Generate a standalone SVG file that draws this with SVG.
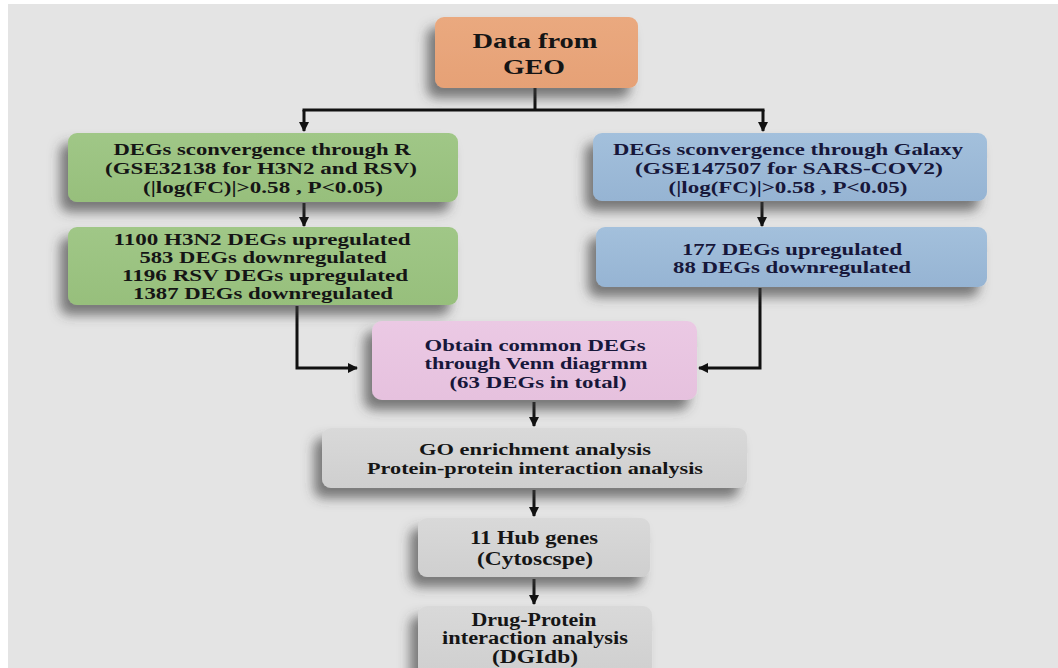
<svg xmlns="http://www.w3.org/2000/svg" width="1058" height="668" viewBox="0 0 1058 668">
  <style>
    .box { stroke: none; }
    .t { font-family: "Liberation Serif", "Times New Roman", serif; font-weight: bold; text-anchor: middle; fill: #151515; }
    .s17 { font-size: 17.5px; }
    .s16 { font-size: 16.5px; }
    .s18 { font-size: 18px; }
    .s21 { font-size: 21px; }
    .navy { fill: #17173a; }
    .ln { fill: none; stroke: #111; stroke-width: 3; }
  </style>
  <defs>
    <filter id="sh" x="-20%" y="-30%" width="140%" height="170%">
      <feDropShadow dx="-8" dy="10" stdDeviation="6" flood-color="#404040" flood-opacity="0.65"/>
    </filter>
    <marker id="ah" viewBox="0 0 10 10" refX="9" refY="5" markerWidth="10" markerHeight="10" markerUnits="userSpaceOnUse" orient="auto">
      <path d="M0,0 L10,5 L0,10 z" fill="#111"/>
    </marker>
    <linearGradient id="gOr" x1="0" y1="0" x2="0" y2="1">
      <stop offset="0" stop-color="#eaa97f"/><stop offset="1" stop-color="#e6a176"/>
    </linearGradient>
    <linearGradient id="gGr" x1="0" y1="0" x2="0" y2="1">
      <stop offset="0" stop-color="#a0c787"/><stop offset="1" stop-color="#97bf7c"/>
    </linearGradient>
    <linearGradient id="gBl" x1="0" y1="0" x2="0" y2="1">
      <stop offset="0" stop-color="#a3c0dc"/><stop offset="1" stop-color="#96b4d3"/>
    </linearGradient>
    <linearGradient id="gPk" x1="0" y1="0" x2="0" y2="1">
      <stop offset="0" stop-color="#ebc9e4"/><stop offset="1" stop-color="#e6c1de"/>
    </linearGradient>
    <linearGradient id="gGy" x1="0" y1="0" x2="0" y2="1">
      <stop offset="0" stop-color="#d9d9d9"/><stop offset="1" stop-color="#cfcfcf"/>
    </linearGradient>
  </defs>

  <rect x="0" y="0" width="1058" height="668" fill="#ffffff"/>
  <rect x="8" y="4" width="1050" height="664" fill="#e4e4e4"/>

  <g id="connectors">
    <line class="ln" x1="535" y1="88" x2="535" y2="110"/>
    <line class="ln" x1="302.5" y1="110" x2="764.5" y2="110"/>
    <line class="ln" x1="304" y1="110" x2="304" y2="131" marker-end="url(#ah)"/>
    <line class="ln" x1="763" y1="110" x2="763" y2="131" marker-end="url(#ah)"/>
    <line class="ln" x1="304" y1="203" x2="304" y2="226" marker-end="url(#ah)"/>
    <line class="ln" x1="762" y1="202" x2="762" y2="226" marker-end="url(#ah)"/>
    <polyline class="ln" points="297,306 297,368 357,368" marker-end="url(#ah)"/>
    <polyline class="ln" points="760,288 760,368 699,368" marker-end="url(#ah)"/>
    <line class="ln" x1="534" y1="402" x2="534" y2="426" marker-end="url(#ah)"/>
    <line class="ln" x1="534" y1="490" x2="534" y2="516" marker-end="url(#ah)"/>
    <line class="ln" x1="534" y1="579" x2="534" y2="604" marker-end="url(#ah)"/>
  </g>

  <g id="geo">
    <rect class="box" x="435" y="17" width="203" height="71" rx="9" fill="url(#gOr)" filter="url(#sh)"/>
    <text class="t s21" x="535" y="48" textLength="125" lengthAdjust="spacingAndGlyphs">Data from</text>
    <text class="t s21" x="534" y="74" textLength="62" lengthAdjust="spacingAndGlyphs">GEO</text>
  </g>

  <g id="degs-r">
    <rect class="box" x="68" y="133" width="390" height="69" rx="9" fill="url(#gGr)" filter="url(#sh)"/>
    <text class="t s17" x="262" y="155" textLength="297" lengthAdjust="spacingAndGlyphs">DEGs sconvergence through R</text>
    <text class="t s17" x="261" y="174" textLength="312" lengthAdjust="spacingAndGlyphs">(GSE32138 for H3N2 and RSV)</text>
    <text class="t s17" x="263" y="193" textLength="240" lengthAdjust="spacingAndGlyphs">(|log(FC)|&gt;0.58 , P&lt;0.05)</text>
  </g>

  <g id="degs-r-counts">
    <rect class="box" x="68" y="227" width="390" height="78" rx="9" fill="url(#gGr)" filter="url(#sh)"/>
    <text class="t s16" x="262" y="245" textLength="297" lengthAdjust="spacingAndGlyphs">1100 H3N2 DEGs upregulated</text>
    <text class="t s16" x="263" y="263" textLength="247" lengthAdjust="spacingAndGlyphs">583 DEGs downregulated</text>
    <text class="t s16" x="265" y="281" textLength="286" lengthAdjust="spacingAndGlyphs">1196 RSV DEGs upregulated</text>
    <text class="t s16" x="263" y="299" textLength="260" lengthAdjust="spacingAndGlyphs">1387 DEGs downregulated</text>
  </g>

  <g id="degs-galaxy">
    <rect class="box" x="593" y="133" width="394" height="68" rx="9" fill="url(#gBl)" filter="url(#sh)"/>
    <text class="t s17 navy" x="788" y="155" textLength="350" lengthAdjust="spacingAndGlyphs">DEGs sconvergence through Galaxy</text>
    <text class="t s17 navy" x="789" y="174" textLength="308" lengthAdjust="spacingAndGlyphs">(GSE147507 for SARS-COV2)</text>
    <text class="t s17 navy" x="788" y="193" textLength="239" lengthAdjust="spacingAndGlyphs">(|log(FC)|&gt;0.58 , P&lt;0.05)</text>
  </g>

  <g id="degs-galaxy-counts">
    <rect class="box" x="596" y="227" width="391" height="60" rx="9" fill="url(#gBl)" filter="url(#sh)"/>
    <text class="t s17 navy" x="792" y="255" textLength="220" lengthAdjust="spacingAndGlyphs">177 DEGs upregulated</text>
    <text class="t s17 navy" x="792" y="273" textLength="238" lengthAdjust="spacingAndGlyphs">88 DEGs downregulated</text>
  </g>

  <g id="venn">
    <rect class="box" x="372" y="321" width="325" height="79" rx="10" fill="url(#gPk)" filter="url(#sh)"/>
    <text class="t s17 navy" x="535" y="351" textLength="221" lengthAdjust="spacingAndGlyphs">Obtain common DEGs</text>
    <text class="t s17 navy" x="536" y="369" textLength="223" lengthAdjust="spacingAndGlyphs">through Venn diagrmm</text>
    <text class="t s17 navy" x="538" y="388" textLength="177" lengthAdjust="spacingAndGlyphs">(63 DEGs in total)</text>
  </g>

  <g id="go">
    <rect class="box" x="322" y="428" width="425" height="60" rx="9" fill="url(#gGy)" filter="url(#sh)"/>
    <text class="t s17" x="535" y="455" textLength="232" lengthAdjust="spacingAndGlyphs">GO enrichment analysis</text>
    <text class="t s17" x="535" y="474" textLength="336" lengthAdjust="spacingAndGlyphs">Protein-protein interaction analysis</text>
  </g>

  <g id="hub">
    <rect class="box" x="418" y="518" width="232" height="59" rx="9" fill="url(#gGy)" filter="url(#sh)"/>
    <text class="t s18" x="534" y="544" textLength="128" lengthAdjust="spacingAndGlyphs">11 Hub genes</text>
    <text class="t s18" x="535" y="565" textLength="116" lengthAdjust="spacingAndGlyphs">(Cytoscspe)</text>
  </g>

  <g id="drug">
    <rect class="box" x="418" y="606" width="234" height="70" rx="9" fill="url(#gGy)" filter="url(#sh)"/>
    <text class="t s18" x="534" y="626" textLength="125" lengthAdjust="spacingAndGlyphs">Drug-Protein</text>
    <text class="t s18" x="535" y="644" textLength="186" lengthAdjust="spacingAndGlyphs">interaction analysis</text>
    <text class="t s18" x="535" y="663" textLength="86" lengthAdjust="spacingAndGlyphs">(DGIdb)</text>
  </g>
</svg>
